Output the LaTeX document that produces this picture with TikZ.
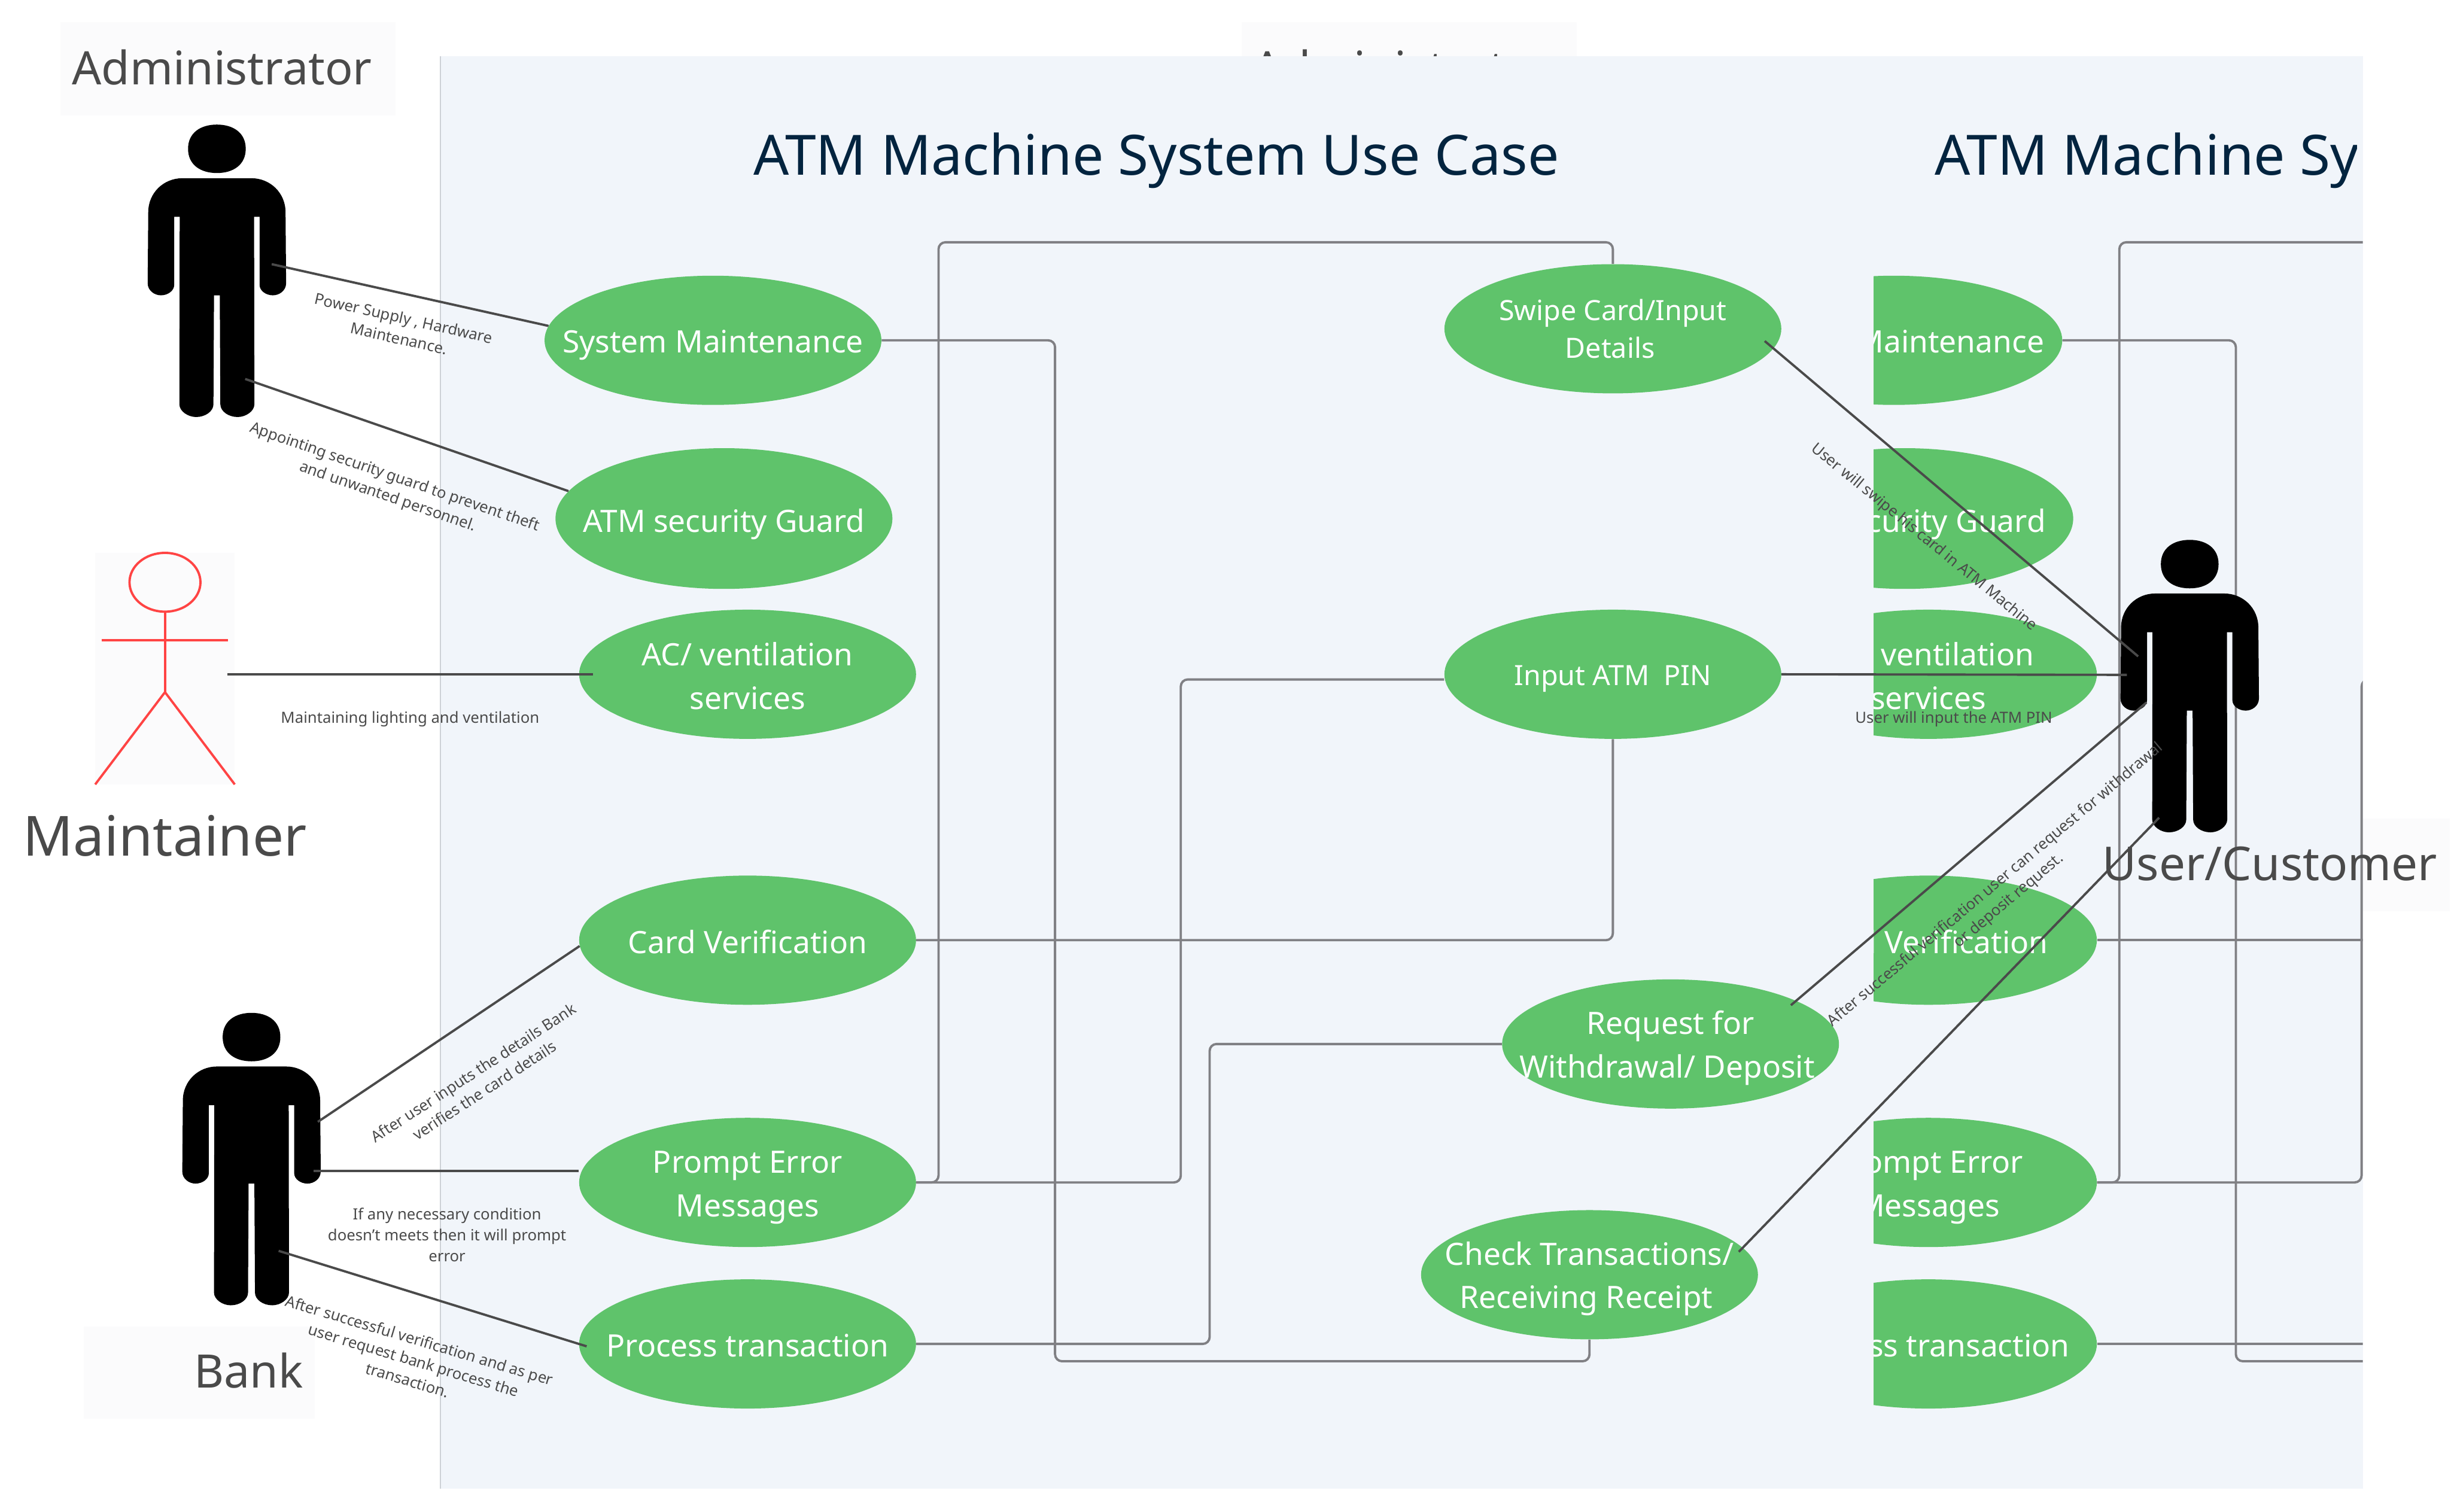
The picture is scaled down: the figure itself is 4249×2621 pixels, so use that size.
\documentclass[tikz,border=0pt]{standalone}
\usepackage{fontspec}
\setmainfont{Noto Sans}
\usetikzlibrary{shapes.geometric,calc}
\definecolor{panelfill}{HTML}{F1F5FA}
\definecolor{panelline}{HTML}{CDD1D6}
\definecolor{ucgreen}{HTML}{5FC36B}
\definecolor{inktext}{HTML}{4A4A4A}
\definecolor{titleink}{HTML}{03243F}
\definecolor{elbowgray}{HTML}{808084}
\definecolor{tagfill}{HTML}{FBFBFC}
\definecolor{stickred}{HTML}{FF4444}
\newcommand\atmperson{%
  \fill[black] (-50,42) .. controls (-50,14) and (-28,0) .. (0,0) .. controls (28,0) and (50,14) .. (50,42)
     .. controls (50,70) and (28,84) .. (0,84) .. controls (-28,84) and (-50,70) .. (-50,42) -- cycle;
  \fill[black] (-60,93) -- (60,93) .. controls (92,93) and (119,118) .. (119,152) -- (120,275)
     .. controls (120,288) and (108,296) .. (97,296) .. controls (85,296) and (74,288) .. (74,278)
     -- (74,160) -- (64.5,160) -- (65,485) .. controls (65,497) and (50,507) .. (36,507)
     .. controls (20,507) and (6,497) .. (6,485) -- (5,296) -- (-5,296) -- (-6,485)
     .. controls (-6,497) and (-20,507) .. (-36,507) .. controls (-50,507) and (-65,497) .. (-65,485)
     -- (-64.5,160) -- (-74,160) -- (-74,278) .. controls (-74,288) and (-85,296) .. (-97,296)
     .. controls (-108,296) and (-120,288) .. (-120,275) -- (-119,152) .. controls (-119,118) and (-92,93) .. (-60,93) -- cycle;
}
\tikzset{
  x=0.5pt,y=-0.5pt,
  person/.pic={\atmperson},
  usecase/.style={ellipse,fill=ucgreen,draw=none,inner sep=0pt,minimum width=292pt,minimum height=112pt},
  uctext/.style={text=white,align=center,inner sep=0pt,font=\fontsize{26.7}{37.5}\selectfont},
  ucsmall/.style={text=white,align=center,inner sep=0pt,font=\fontsize{24.2}{32.5}\selectfont},
  actorname/.style={text=inktext,anchor=base,inner sep=0pt,font=\fontsize{40}{50}\selectfont},
  titletext/.style={text=titleink,anchor=base west,inner sep=0pt,font=\fontsize{48.2}{60}\selectfont},
  note/.style={text=inktext,align=center,inner sep=0pt,font=\fontsize{13.35}{18}\selectfont},
  link/.style={draw=inktext,line width=2pt},
  elbow/.style={draw=elbowgray,line width=2pt,rounded corners=6pt},
  tag/.style={fill=tagfill,draw=none},
  stick/.style={draw=stickred,line width=2pt},
}
\begin{document}
\begin{tikzpicture}
\useasboundingbox (0,0) rectangle (4249,2621);
% label tiles
\fill[tag] (105,38) rectangle (686,200);
\fill[tag] (2152,38) rectangle (2733,200);
\fill[tag] (165,958) rectangle (407,1360);
\fill[tag] (145,2300) rectangle (546,2460);
\fill[tag] (3900,1419) rectangle (4247,1580);
\node[actorname] (adminB) at (2432,147) {Administrator};
% panel
\fill[panelfill] (763,98) rectangle (4096,2581);
\draw[panelline,line width=1pt] (763,98) -- (763,2581);
% titles
\node[titletext] (titleA) at (1306,303) {ATM Machine System Use Case};
\begin{scope}
\clip (0,0) rectangle (4086,2621);
\node[titletext] (titleB) at (3354,303) {ATM Machine System Use Case};
\end{scope}
% use cases, first copy
\node[usecase,label={[uctext,yshift=-4pt]center:System Maintenance}] (sm) at (1236,590) {};
\node[usecase,minimum height=122pt,label={[uctext,yshift=-5pt]center:ATM security Guard}] (gd) at (1255,899) {};
\node[usecase,label={[uctext,yshift=-1.5pt]center:AC/ ventilation\\services}] (ac) at (1296,1169) {};
\node[usecase,label={[uctext,yshift=-1.5pt]center:Card Verification}] (cv) at (1296,1630) {};
\node[usecase,label={[uctext,yshift=-4.5pt]center:Prompt Error\\Messages}] (pe) at (1296,2050) {};
\node[usecase,label={[uctext,yshift=-1.5pt]center:Process transaction}] (pt) at (1296,2330) {};
\node[usecase,label={[ucsmall]center:Swipe Card/Input\\Details\hspace*{5pt}}] (sw) at (2796,570) {};
\node[usecase,label={[ucsmall,yshift=-4pt]center:Input ATM\ \ PIN}] (ip) at (2796,1169) {};
\node[usecase,label={[uctext,yshift=-3.5pt]center:Request for\\Withdrawal/ Deposit\hspace*{6pt}}] (rq) at (2896,1810) {};
\node[usecase,label={[uctext,yshift=-3.5pt]center:Check Transactions/\\Receiving Receipt\hspace*{5.5pt}}] (ck) at (2755.5,2210) {};
% use cases, second copy, cut at its left edge
\begin{scope}
\clip (3248,0) rectangle (4096,2621);
\node[usecase,label={[uctext,yshift=-4pt]center:System Maintenance}] (smB) at (3283,590) {};
\node[usecase,minimum height=122pt,label={[uctext,yshift=-5pt]center:ATM security Guard}] (gdB) at (3302,899) {};
\node[usecase,label={[uctext,yshift=-1.5pt]center:AC/ ventilation\\services}] (acB) at (3343,1169) {};
\node[usecase,label={[uctext,yshift=-1.5pt]center:Card Verification}] (cvB) at (3343,1630) {};
\node[usecase,label={[uctext,yshift=-4.5pt]center:Prompt Error\\Messages}] (peB) at (3343,2050) {};
\node[usecase,label={[uctext,yshift=-1.5pt]center:Process transaction}] (ptB) at (3343,2330) {};
\end{scope}
% elbow connectors
\coordinate (busA) at (1627,420);
\coordinate (busB) at (1829,2360);
\coordinate (busC) at (2047,1178);
\coordinate (busD) at (2097,1810);
\draw[elbow] (pe.east) -| (busA) -| (sw.north);
\draw[elbow] (sm.east) -| (busB) -| (ck.south);
\draw[elbow] (pe.east) -| (busC) -- (busC -| ip.west);
\draw[elbow] (cv.east) -| (ip.south);
\draw[elbow] (pt.east) -| (busD) -- (rq.west);
\begin{scope}
\clip (0,0) rectangle (4096,2621);
\coordinate (busAB) at (3674,420);
\coordinate (busBB) at (3876,2360);
\coordinate (busCB) at (4094,1178);
\coordinate (farA) at (4300,420);
\coordinate (farB) at (4300,2360);
\coordinate (farC) at (4300,1178);
\coordinate (farD) at (4300,1630);
\coordinate (farE) at (4300,2330);
\draw[elbow] (peB.east) -| (busAB) -- (farA);
\draw[elbow] (smB.east) -| (busBB) -- (farB);
\draw[elbow] (peB.east) -| (busCB) -- (farC);
\draw[elbow] (cvB.east) -- (farD);
\draw[elbow] (ptB.east) -- (farE);
\end{scope}
% actors
\pic (adminFig) at (376,216) {person};
\pic (bankFig) at (436,1756) {person};
\pic (userFig) at (3796,936) {person};
\coordinate (mHead) at (286,1009.5);
\coordinate (mNeck) at (286,1060.5);
\coordinate (mHip) at (286,1200);
\coordinate (mArmL) at (176,1110);
\coordinate (mArmR) at (395,1110);
\coordinate (mFootL) at (165,1360);
\coordinate (mFootR) at (407,1360);
\draw[stick] (mHead) ellipse [x radius=61.5,y radius=51];
\draw[stick] (mNeck) -- (mHip);
\draw[stick] (mArmL) -- (mArmR);
\draw[stick] (mFootL) -- (mHip) -- (mFootR);
% actor ends of the links
\coordinate (adminA) at (471,458);
\coordinate (adminB2) at (425,657);
\coordinate (maintA) at (394.5,1169);
\coordinate (bankA) at (551,1945);
\coordinate (bankB) at (544,2030);
\coordinate (bankC) at (483,2168.6);
\coordinate (userA) at (3706.6,1138);
\coordinate (userB) at (3687,1170);
\coordinate (userC) at (3721,1218);
\coordinate (userD) at (3743,1417.6);
% straight links
\draw[link] (adminA) -- (sm.175.2);
\draw[link] (adminB2) -- (gd.170.2);
\draw[link,shorten >=-12pt] (maintA) -- (ac.west);
\draw[link] (bankA) -- (cv.182.6);
\draw[link] (bankB) -- (bankB -| pe.west);
\draw[link,shorten >=-7pt] (bankC) -- (pt.west);
\draw[link,shorten <=-10pt] (sw.-7) -- (userA);
\draw[link] (ip.east) -- (userB);
\draw[link,shorten <=-6pt] (rq.19.5) -- (userC);
\draw[link,shorten <=-5pt] (ck.10.3) -- (userD);
% names
\node[actorname] (adminA2) at (385,147) {Administrator};
\node[actorname,font=\fontsize{48}{56}\selectfont] (maintName) at (286,1484) {Maintainer};
\node[actorname] (bankName) at (431,2406) {Bank};
\node[actorname,font=\fontsize{40.5}{50}\selectfont] (userName) at (3935,1526) {User/Customer};
% link notes
\node[note,rotate=-12.7] (n1) at (696,569) {Power Supply , Hardware\\Maintenance.};
\node[note,rotate=-19] (n2) at (678,845) {Appointing security guard to prevent theft\\and unwanted personnel.};
\node[note] (n3) at (711,1247) {Maintaining lighting and ventilation};
\node[note,rotate=33] (n4) at (830,1875) {After user inputs the details Bank\\verifies the card details};
\node[note] (n5) at (775,2141) {If any necessary condition\\doesn't meets then it will prompt\\error};
\node[note,rotate=-16.7] (n6) at (717,2358) {After successful verification and as per\\user request bank process the\\transaction.};
\node[note,rotate=-39.3] (n7) at (3335,932) {User will swipe his card in ATM Machine};
\node[note] (n8) at (3387,1247) {User will input the ATM PIN};
\node[note,rotate=40] (n9) at (3471,1548) {After successful verification user can request for withdrawal\\or deposit request.};
\end{tikzpicture}
\end{document}
